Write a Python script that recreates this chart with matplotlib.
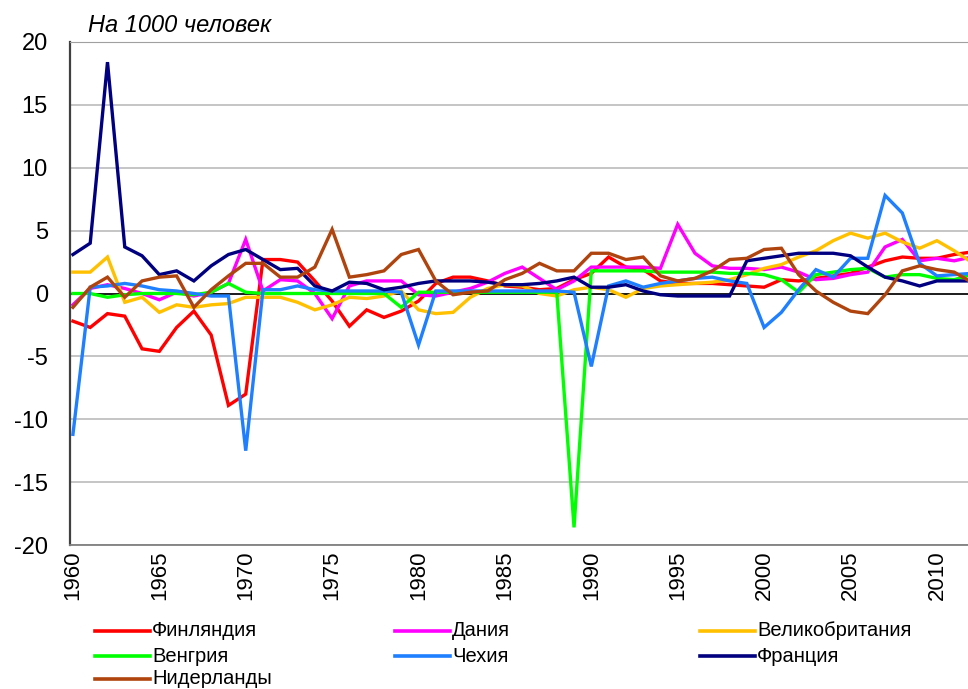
import matplotlib
matplotlib.use("Agg")
import matplotlib.pyplot as plt
from matplotlib.lines import Line2D

plt.rcParams['font.family'] = ['Liberation Sans', 'DejaVu Sans']
plt.rcParams['axes.unicode_minus'] = False

years = list(range(1960, 2013))

# net migration per 1000 people, 1960-2012
finland = [-2.2, -2.7, -1.6, -1.8, -4.4, -4.6, -2.7, -1.4, -3.3, -8.9, -8.0,
           2.7, 2.7, 2.5, 1.0, -0.6, -2.6, -1.3, -1.9, -1.4, -0.6,
           0.8, 1.3, 1.3, 1.0, 0.6, 0.5, 0.3, 0.4, 1.1, 1.6,
           2.9, 2.1, 1.9, 1.0, 0.8, 0.8, 0.8, 0.7, 0.6, 0.5,
           1.1, 1.0, 1.2, 1.4, 1.6, 2.1, 2.6, 2.9, 2.8, 2.8,
           3.1, 3.3]
denmark = [-0.9, 0.4, 0.7, 0.4, 0.0, -0.5, 0.1, -0.2, 0.1, 0.8, 4.3,
           0.2, 1.1, 1.0, 0.0, -2.0, 0.6, 1.0, 1.0, 1.0, -0.1,
           -0.2, 0.1, 0.4, 0.9, 1.6, 2.1, 1.2, 0.3, 1.0, 2.1,
           2.1, 2.1, 2.1, 2.0, 5.5, 3.2, 2.2, 2.0, 2.0, 1.9,
           2.1, 1.7, 1.1, 1.2, 1.5, 1.7, 3.7, 4.3, 2.6, 2.8,
           2.6, 2.9]
uk = [1.7, 1.7, 2.9, -0.7, -0.3, -1.5, -0.9, -1.1, -0.9, -0.8, -0.3,
      -0.3, -0.3, -0.7, -1.3, -0.9, -0.3, -0.4, -0.2, 0.2, -1.3,
      -1.6, -1.5, -0.3, 0.4, 0.7, 0.6, 0.0, -0.2, 0.3, 0.5,
      0.3, -0.3, 0.4, 0.6, 0.7, 0.8, 0.9, 1.1, 1.5, 2.0,
      2.3, 2.9, 3.4, 4.2, 4.8, 4.4, 4.8, 4.1, 3.6, 4.2,
      3.4, 2.5]
hungary = [0.0, 0.0, -0.3, -0.1, 0.0, 0.0, 0.0, -0.1, 0.1, 0.8, 0.1,
           0.0, 0.0, 0.0, 0.0, 0.0, 0.0, 0.0, 0.0, -1.1, 0.1,
           0.1, 0.1, 0.1, 0.1, 0.1, 0.1, 0.1, 0.1, -18.6, 1.8,
           1.8, 1.8, 1.8, 1.7, 1.7, 1.7, 1.7, 1.6, 1.6, 1.5,
           1.1, 0.1, 1.5, 1.7, 1.9, 2.0, 1.3, 1.5, 1.5, 1.2,
           1.1, 1.5]
czech = [-11.2, 0.5, 0.6, 0.8, 0.6, 0.3, 0.2, 0.0, -0.2, -0.2, -12.5,
         0.3, 0.3, 0.6, 0.3, 0.2, 0.2, 0.2, 0.2, 0.1, -4.1,
         0.2, 0.2, 0.2, 0.2, 0.2, 0.2, 0.2, 0.2, 0.1, -5.8,
         0.6, 1.0, 0.5, 0.8, 1.0, 1.2, 1.3, 1.0, 0.8, -2.7,
         -1.5, 0.3, 1.9, 1.3, 2.8, 2.8, 7.8, 6.4, 2.4, 1.4,
         1.5, 1.6]
france = [3.1, 4.0, 18.4, 3.7, 3.0, 1.5, 1.8, 1.0, 2.2, 3.1, 3.5,
          2.7, 1.9, 2.0, 0.6, 0.2, 0.9, 0.8, 0.3, 0.5, 0.8,
          1.0, 1.0, 1.0, 0.9, 0.7, 0.7, 0.8, 1.0, 1.3, 0.5,
          0.5, 0.7, 0.2, -0.1, -0.2, -0.2, -0.2, -0.2, 2.6, 2.8,
          3.0, 3.2, 3.2, 3.2, 3.0, 2.1, 1.3, 1.0, 0.6, 1.0,
          1.0, 1.0]
netherlands = [-1.1, 0.5, 1.3, -0.3, 1.0, 1.3, 1.4, -1.1, 0.3, 1.4, 2.4,
               2.4, 1.3, 1.3, 2.1, 5.1, 1.3, 1.5, 1.8, 3.1, 3.5,
               1.0, -0.1, 0.1, 0.2, 1.1, 1.6, 2.4, 1.8, 1.8, 3.2,
               3.2, 2.7, 2.9, 1.4, 1.0, 1.2, 1.8, 2.7, 2.8, 3.5,
               3.6, 1.5, 0.2, -0.7, -1.4, -1.6, -0.1, 1.8, 2.2, 1.9,
               1.7, 0.9]

names = ['Финляндия', 'Дания', 'Великобритания', 'Венгрия', 'Чехия', 'Франция', 'Нидерланды']
series = [finland, denmark, uk, hungary, czech, france, netherlands]
colors = ['#FF0000', '#FF00FF', '#FFC000', '#00FF00', '#1E7FFF', '#000080', '#B0440E']

fig = plt.figure(figsize=(9.68, 6.89), dpi=100)
ax = fig.add_axes([70/968, 1-545/689, 898/968, 503/689])

for vals, c, n in zip(series, colors, names):
    ax.plot(years, vals, color=c, lw=2.4, label=n, solid_joinstyle='miter')

ax.axhline(0, color='black', lw=1.2, zorder=1)
ax.set_ylim(-20, 20)
ax.set_xlim(1959.83, 2011.8)
ax.set_yticks(range(-20, 21, 5))
ax.set_xticks(range(1960, 2011, 5))
ax.set_xticklabels([str(y) for y in range(1960, 2011, 5)], rotation=90)
ax.grid(axis='y', color='#C0C0C0', lw=1.3, zorder=0)
ax.set_axisbelow(True)
ax.tick_params(length=0)
ax.tick_params(axis='y', pad=16, labelsize=17)
ax.tick_params(axis='x', pad=4, labelsize=16)
ax.spines['right'].set_visible(False)
ax.spines['left'].set_color('#404040')
ax.spines['left'].set_linewidth(1.6)
ax.spines['top'].set_color('#A0A0A0')
ax.spines['bottom'].set_color('#808080')
ax.spines['bottom'].set_linewidth(1.3)

fig.text(88/968, 1-25/689, 'На 1000 человек', style='italic', fontsize=17,
         va='center', ha='left')

# legend in three columns, filled row by row
col_x = [95, 395, 700]
row_y = [631, 656, 679]
for i, (n, c) in enumerate(zip(names, colors)):
    r, k = divmod(i, 3)
    x0 = col_x[k] / 968
    y0 = 1 - row_y[r] / 689
    fig.add_artist(Line2D([x0, x0 + 55/968], [y0, y0], color=c, lw=2.6,
                          transform=fig.transFigure))
    fig.text(x0 + 57/968, y0, n, fontsize=14.5, va='center', ha='left')

fig.savefig('out.png', dpi=100)
